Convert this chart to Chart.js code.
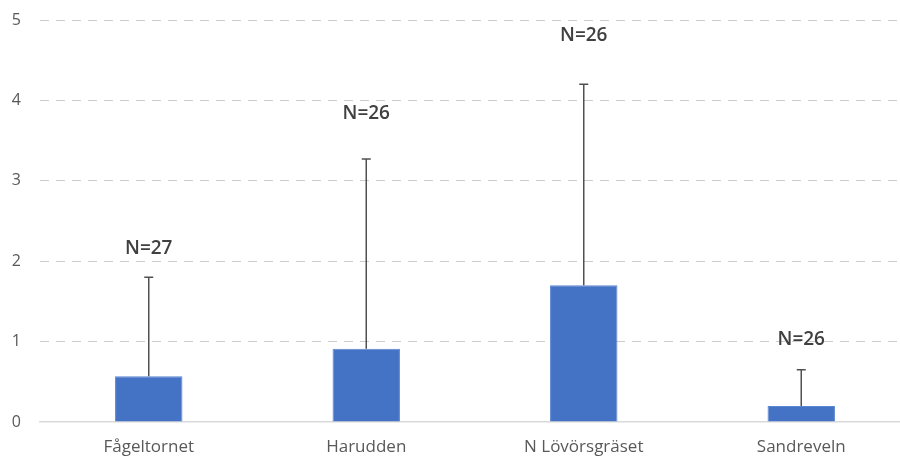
<!DOCTYPE html>
<html>
<head>
<meta charset="utf-8">
<script src="https://cdn.jsdelivr.net/npm/chart.js@4.4.1/dist/chart.umd.min.js"></script>
<style>
html,body{margin:0;padding:0;background:#fff;overflow:hidden;}
#wrap{width:910px;height:459px;position:relative;}
</style>
</head>
<body>
<div id="wrap"><canvas id="c"></canvas></div>
<script>
const categories = ["Fågeltornet", "Harudden", "N Lövörsgräset", "Sandreveln"];
const means = [0.57, 0.91, 1.70, 0.20];
const errPlus = [1.23, 2.36, 2.50, 0.45];
const nLabels = ["N=27", "N=26", "N=26", "N=26"];
const nLabelY = [2.16, 3.83, 4.81, 1.03];
const yTicks = [0, 1, 2, 3, 4, 5];

const errorBarPlugin = {
  id: 'errorBars',
  afterDatasetsDraw(chart) {
    const ctx = chart.ctx;
    const meta = chart.getDatasetMeta(0);
    const y = chart.scales.y;
    ctx.save();
    ctx.strokeStyle = '#505050';
    ctx.lineWidth = 1.5;
    meta.data.forEach((bar, i) => {
      const x = bar.x;
      const yb = y.getPixelForValue(means[i]);
      const yt = y.getPixelForValue(means[i] + errPlus[i]);
      ctx.beginPath();
      ctx.moveTo(x, yb);
      ctx.lineTo(x, yt);
      ctx.moveTo(x - 4.5, yt);
      ctx.lineTo(x + 4.5, yt);
      ctx.stroke();
      ctx.fillStyle = '#404040';
      ctx.font = '600 19px "Open Sans"';
      ctx.textAlign = 'center';
      ctx.textBaseline = 'middle';
      ctx.fillText(nLabels[i], x, y.getPixelForValue(nLabelY[i]));
    });
    ctx.restore();
  }
};

new Chart(document.getElementById('c'), {
  type: 'bar',
  data: {
    labels: categories,
    datasets: [{
      data: means,
      backgroundColor: '#4472C4',
      borderColor: '#5b86d0',
      borderWidth: 1,
      categoryPercentage: 1,
      barPercentage: 0.31
    }]
  },
  options: {
    responsive: true,
    maintainAspectRatio: false,
    animation: false,
    layout: { padding: { top: 20, left: 0, right: 0, bottom: 0 } },
    plugins: { legend: { display: false }, tooltip: { enabled: false } },
    scales: {
      x: {
        grid: { display: false, drawTicks: false },
        border: { display: true, color: '#d9d9d9', width: 1.5 },
        ticks: { color: '#595959', font: { family: 'Open Sans', size: 17 }, padding: 15, maxRotation: 0 },
        afterFit(s) { s.height = 37; s.paddingLeft = 0; s.paddingRight = 0; }
      },
      y: {
        min: 0, max: 5,
        afterBuildTicks(s) { s.ticks = yTicks.map(v => ({ value: v })); },
        grid: {
          drawTicks: false,
          color: (c) => c.tick && c.tick.value === 0 ? 'rgba(0,0,0,0)' : '#cccccc',
          lineWidth: 1
        },
        border: { display: false, dash: [9, 7] },
        ticks: { color: '#595959', font: { family: 'Open Sans', size: 16 }, padding: 19 },
        afterFit(s) { s.width = 40; s.paddingTop = 0; s.paddingBottom = 0; }
      }
    }
  },
  plugins: [errorBarPlugin]
});
</script>
</body>
</html>
